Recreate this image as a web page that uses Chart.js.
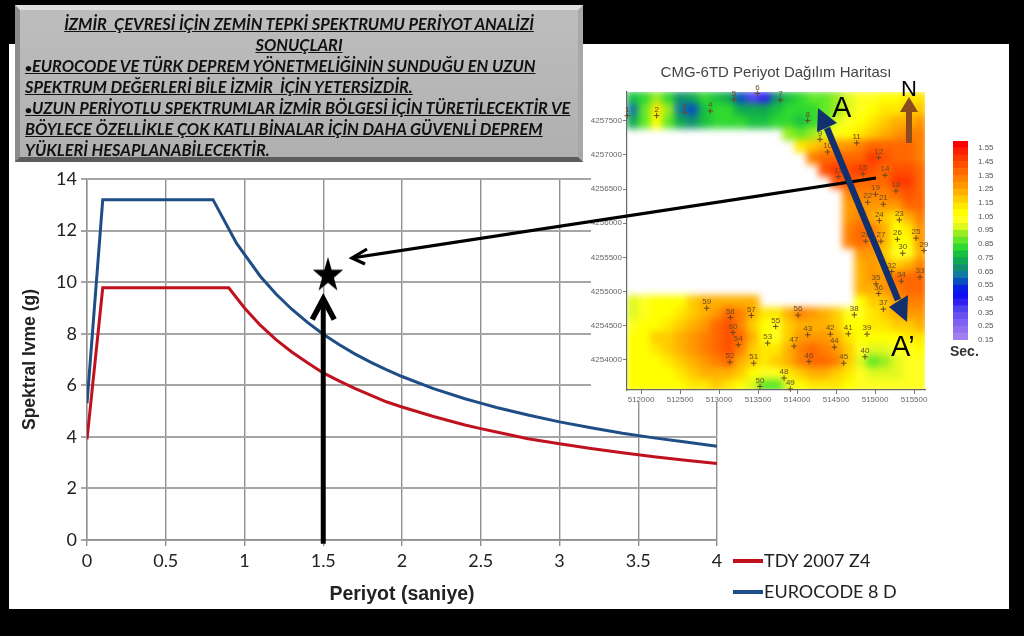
<!DOCTYPE html>
<html lang="tr">
<head>
<meta charset="utf-8">
<title>Zemin Tepki Spektrumu</title>
<script src="https://cdn.jsdelivr.net/npm/chart.js@4/dist/chart.umd.min.js"></script>
<style>
html,body{margin:0;padding:0;background:#000;width:1024px;height:636px;overflow:hidden;font-family:Lato,sans-serif}
#white{position:absolute;left:9px;top:44px;width:1000px;height:565px;background:#fff}
canvas{position:absolute;display:block}
#mapBack{position:absolute;left:591px;top:44px;width:418px;height:358px;background:#fff}
#cellWrap{position:absolute;left:627px;top:92px;width:298px;height:298px;overflow:hidden}
#cells{left:-20px;top:-20px;filter:blur(3.5px)}
#panel{position:absolute;left:15px;top:5px;width:558px;height:147px;padding:0;background:linear-gradient(180deg,#bdbdbd,#b0b0b0);border-style:solid;border-width:5px;border-color:#dedede #a8a8a8 #5c5c5c #8c8c8c;overflow:hidden;color:#111;font:italic 700 16.4px/21px Lato,sans-serif;text-decoration:underline;white-space:pre}
#panel .in{margin-top:3px}
#panel .in div{padding-left:5px;height:21px}
#panel .in .c{text-align:center;padding:0}
#panel b{font-size:12px}
.legend{position:absolute;left:733px;font:18px Lato,sans-serif;color:#222;height:22px;line-height:22px;white-space:nowrap}
.legend i{display:inline-block;width:30px;height:4px;vertical-align:middle;margin-right:1px;position:relative;top:-1px}
svg{position:absolute;left:0;top:0}
.lab{position:absolute;color:#000;font-family:'Liberation Sans',sans-serif}
</style>
</head>
<body>
<div id="white"></div>
<canvas id="main" width="1024" height="636" style="left:0;top:0"></canvas>
<div id="mapBack"></div>
<div id="cellWrap"><canvas id="cells" width="338" height="338"></canvas></div>
<canvas id="map" width="400" height="350" style="left:576px;top:60px"></canvas>
<canvas id="bar" width="60" height="220" style="left:940px;top:131px"></canvas>
<div id="legend"></div>
<svg width="1024" height="636">
  <g fill="none" stroke="#000" stroke-width="3.2">
    <line x1="876" y1="178" x2="352" y2="258"/>
    <polyline points="367,249 352,258 365,264"/>
  </g>
  <line x1="827" y1="128" x2="898" y2="300" stroke="#12306e" stroke-width="6.5"/>
  <polygon points="818,108 817,132 837,123" fill="#12306e"/>
  <polygon points="907,322 889,307 908,295" fill="#12306e"/>
  <line x1="909" y1="108" x2="909" y2="143" stroke="#8a4b1e" stroke-width="6"/>
  <polygon points="909,97 900,112 918,112" fill="#8a4b1e"/>
</svg>
<div class="lab" style="left:832px;top:90px;font-size:29px;line-height:34px">A</div>
<div class="lab" style="left:901px;top:76px;font-size:22px;line-height:26px">N</div>
<div class="lab" style="left:891px;top:329px;font-size:29px;line-height:34px">A’</div>
<div class="lab" style="left:950px;top:343px;font-size:14px;line-height:16px;color:#333;font-weight:700">Sec.</div>
<div id="panel"><div class="in"><div class="c">İZMİR  ÇEVRESİ İÇİN ZEMİN TEPKİ SPEKTRUMU PERİYOT ANALİZİ</div><div class="c">SONUÇLARI</div><div><b>•</b>EUROCODE VE TÜRK DEPREM YÖNETMELİĞİNİN SUNDUĞU EN UZUN</div><div>SPEKTRUM DEĞERLERİ BİLE İZMİR  İÇİN YETERSİZDİR.</div><div><b>•</b>UZUN PERİYOTLU SPEKTRUMLAR İZMİR BÖLGESİ İÇİN TÜRETİLECEKTİR VE</div><div>BÖYLECE ÖZELLİKLE ÇOK KATLI BİNALAR İÇİN DAHA GÜVENLİ DEPREM</div><div>YÜKLERİ HESAPLANABİLECEKTİR.</div></div></div>
<script>
const periodRed  = [0,0.1,0.9,1.0,1.1,1.2,1.3,1.4,1.5,1.6,1.7,1.8,1.9,2.0,2.2,2.4,2.5,2.6,2.8,3.0,3.2,3.4,3.6,3.8,4.0];
const valuesRed  = [3.9,9.78,9.78,9.0,8.33,7.77,7.29,6.87,6.48,6.17,5.88,5.62,5.36,5.16,4.79,4.46,4.32,4.19,3.93,3.73,3.55,3.38,3.23,3.09,2.97];
const periodBlue = [0,0.1,0.8,0.95,1.1,1.2,1.3,1.4,1.5,1.6,1.7,1.8,1.9,2.0,2.2,2.4,2.5,2.6,2.8,3.0,3.2,3.4,3.6,3.8,4.0];
const valuesBlue = [5.3,13.2,13.2,11.5,10.23,9.54,8.95,8.44,7.98,7.58,7.22,6.9,6.61,6.34,5.87,5.48,5.31,5.14,4.85,4.58,4.35,4.14,3.96,3.8,3.64];
const seriesNames = ['TDY 2007 Z4','EUROCODE 8 D'];
const xTicks = [0,0.5,1,1.5,2,2.5,3,3.5,4];
const yTicks = [0,2,4,6,8,10,12,14];
const starPeriod = [1.53], starValue = [10.26];
const arrowPeriod = [1.5,1.5], arrowValue = [-0.15,9.35];
const headPeriod = [1.43,1.5,1.57], headValue = [8.55,9.35,8.55];

const mapEast  = [511897,512051,512205,512358,512512,512666,512820,512974,513128,513281,513435,513589,513743,513897,514051,514205,514358,514512,514666,514820,514974,515128,515281,515435,515589];
const mapNorth = [4257832,4257657,4257481,4257306,4257130,4256955,4256780,4256604,4256429,4256253,4256078,4255902,4255727,4255551,4255376,4255201,4255025,4254850,4254674,4254499,4254323,4254148,4253972,4253797,4253621];
const _ = null;
const mapPeriod = [
[.75,.8,.9,.8,.65,.7,.8,.78,.7,.55,.35,.4,.65,.78,.8,.85,.88,.9,.95,1.0,1.03,1.05,1.05,1.1,1.12],
[.6,.85,1.12,.9,.62,.55,.75,.8,.8,.72,.7,.72,.78,.8,.8,.82,.85,.9,.97,1.02,1.05,1.1,1.12,1.15,1.18],
[.7,.88,1.05,.88,.72,.68,.78,.8,.8,.8,.78,.78,.8,.82,.78,.8,.85,.95,1.0,1.05,1.1,1.15,1.2,1.22,1.25],
[_,_,_,_,_,_,_,_,_,_,_,_,_,.9,.88,.9,.95,1.02,1.08,1.12,1.18,1.22,1.28,1.3,1.3],
[_,_,_,_,_,_,_,_,_,_,_,_,_,_,1.12,1.15,1.2,1.25,1.25,1.3,1.38,1.38,1.35,1.35,1.32],
[_,_,_,_,_,_,_,_,_,_,_,_,_,_,_,1.3,1.35,1.35,1.35,1.38,1.45,1.42,1.38,1.38,1.32],
[_,_,_,_,_,_,_,_,_,_,_,_,_,_,_,_,1.42,1.45,1.42,1.45,1.42,1.38,1.42,1.42,1.35],
[_,_,_,_,_,_,_,_,_,_,_,_,_,_,_,_,_,1.42,1.4,1.38,1.35,1.38,1.45,1.45,1.38],
[_,_,_,_,_,_,_,_,_,_,_,_,_,_,_,_,_,_,1.32,1.3,1.3,1.32,1.38,1.4,1.38],
[_,_,_,_,_,_,_,_,_,_,_,_,_,_,_,_,_,_,1.28,1.28,1.25,1.25,1.28,1.35,1.35],
[_,_,_,_,_,_,_,_,_,_,_,_,_,_,_,_,_,_,1.28,1.3,1.2,1.18,1.12,1.2,1.3],
[_,_,_,_,_,_,_,_,_,_,_,_,_,_,_,_,_,_,1.3,1.35,1.3,1.2,1.08,1.1,1.28],
[_,_,_,_,_,_,_,_,_,_,_,_,_,_,_,_,_,_,1.3,1.35,1.3,1.2,1.05,1.05,1.25],
[_,_,_,_,_,_,_,_,_,_,_,_,_,_,_,_,_,_,_,1.28,1.28,1.18,1.02,1.02,1.22],
[_,_,_,_,_,_,_,_,_,_,_,_,_,_,_,_,_,_,_,1.22,1.25,1.22,1.15,1.2,1.3],
[_,_,_,_,_,_,_,_,_,_,_,_,_,_,_,_,_,_,_,1.22,1.25,1.28,1.35,1.35,1.35],
[_,_,_,_,_,_,_,_,_,_,_,_,_,_,_,_,_,_,_,1.2,1.2,1.25,1.3,1.35,1.35],
[.97,1.02,1.05,1.05,1.08,1.15,1.2,1.2,1.22,1.2,1.2,_,_,_,_,_,_,_,_,1.05,1.15,1.18,1.25,1.3,1.32],
[.98,1.03,1.05,1.08,1.12,1.18,1.22,1.28,1.38,1.3,1.2,1.12,1.12,1.22,1.3,1.25,1.2,1.15,1.0,1.0,1.1,1.15,1.2,1.28,1.28],
[1.02,1.05,1.06,1.12,1.18,1.22,1.28,1.36,1.42,1.32,1.15,1.05,1.02,1.15,1.22,1.22,1.2,1.15,1.08,1.05,1.1,1.12,1.15,1.18,1.2],
[1.05,1.08,1.15,1.18,1.22,1.28,1.33,1.38,1.42,1.35,1.2,1.05,1.02,1.15,1.25,1.28,1.28,1.2,1.12,1.08,1.08,1.08,1.08,1.1,1.12],
[1.05,1.06,1.12,1.16,1.2,1.26,1.32,1.38,1.4,1.3,1.15,1.1,1.12,1.2,1.3,1.35,1.32,1.25,1.18,1.02,.95,.95,1.0,1.02,1.05],
[1.05,1.05,1.08,1.12,1.18,1.22,1.28,1.32,1.35,1.22,1.15,1.12,1.15,1.22,1.32,1.35,1.35,1.3,1.18,.98,.88,.92,.98,1.0,1.03],
[1.05,1.05,1.06,1.08,1.12,1.16,1.2,1.22,1.22,1.15,1.08,1.0,1.02,1.1,1.18,1.2,1.2,1.18,1.12,1.0,.95,.95,.98,1.0,1.02],
[1.05,1.05,1.05,1.06,1.08,1.1,1.12,1.15,1.12,1.08,.95,.85,.88,.98,1.05,1.1,1.1,1.1,1.05,1.02,1.0,1.0,1.0,1.0,1.0]
];
const stationNames = ['1','2','3','4','5','6','7','8','9','10','11','12','13','15','14','18','19','22','21','24','23','25','26','27','28','29','30','32','34','33','35','36','37','38','39','41','42','43','44','47','45','46','40','52','51','53','55','54','60','58','57','56','59','48','49','50'];
const stationEast  = [511824,512200,512555,512888,513192,513491,513786,514136,514294,514392,514764,515046,514529,514845,515127,515268,515004,514905,515106,515055,515311,515525,515286,515076,514880,515627,515354,515213,515337,515576,515012,515046,515106,514734,514897,514657,514427,514136,514478,513961,514598,514153,514871,513140,513444,513623,513726,513247,513179,513145,513414,514012,512841,513833,513914,513525];
const stationNorth = [4257574,4257574,4257623,4257642,4257813,4257900,4257803,4257501,4257228,4257043,4257174,4256960,4256682,4256721,4256702,4256473,4256424,4256307,4256278,4256039,4256049,4255781,4255766,4255737,4255737,4255600,4255561,4255293,4255152,4255211,4255113,4254972,4254743,4254660,4254377,4254382,4254377,4254368,4254187,4254202,4253953,4253978,4254046,4253968,4253953,4254246,4254490,4254221,4254402,4254621,4254650,4254655,4254757,4253734,4253573,4253612];
const mapEastTicks  = [512000,512500,513000,513500,514000,514500,515000,515500];
const mapNorthTicks = [4254000,4254500,4255000,4255500,4256000,4256500,4257000,4257500];
const bandLow = [.15,.2,.25,.3,.35,.4,.45,.5,.55,.6,.65,.7,.75,.8,.85,.9,.95,1,1.05,1.1,1.15,1.2,1.25,1.3,1.35,1.4,1.45,1.5,1.55];
const bandColor = ['#a080f0','#9070f0','#8060f0','#6a50f0','#5040f0','#3020f0','#1010f0','#0820e0','#0850c0','#107aa0','#109070','#10a850','#18c040','#30d830','#60e828','#98ec20','#e0f820','#ffff20','#ffff00','#ffe800','#ffcc00','#ffb000','#ff9800','#ff8000','#ff6800','#ff5000','#ff3800','#f82000','#ff0000'];
const barTicks = [.15,.25,.35,.45,.55,.65,.75,.85,.95,1.05,1.15,1.25,1.35,1.45,1.55];

Chart.defaults.animation = false;
Chart.defaults.responsive = false;
Chart.defaults.plugins.legend.display = false;
Chart.defaults.plugins.tooltip.enabled = false;

function starImage(){
  const c=document.createElement('canvas');c.width=44;c.height=44;const g=c.getContext('2d');
  g.translate(22,22);g.fillStyle='#000';g.beginPath();
  for(let i=0;i<10;i++){const r=i%2?6.2:16,a=-Math.PI/2+i*Math.PI/5;const px=r*Math.cos(a),py=r*1.15*Math.sin(a);i?g.lineTo(px,py):g.moveTo(px,py);}
  g.closePath();g.fill();return c;
}
const zip=(a,b)=>a.map((v,i)=>({x:v,y:b[i]}));
const tickFont={family:'Lato',size:18};

const mainChart=new Chart(document.getElementById('main'),{
  type:'scatter',
  data:{datasets:[
    {data:zip(headPeriod,headValue),showLine:true,borderColor:'#000',borderWidth:5.5,pointRadius:0,clip:false},
    {data:zip(arrowPeriod,arrowValue),showLine:true,borderColor:'#000',borderWidth:5,pointRadius:0,clip:false},
    {data:zip(starPeriod,starValue),pointStyle:starImage(),pointRadius:16},
    {label:seriesNames[0],data:zip(periodRed,valuesRed),showLine:true,borderColor:'#c0111f',backgroundColor:'#c0111f',borderWidth:3,pointRadius:0,tension:0},
    {label:seriesNames[1],data:zip(periodBlue,valuesBlue),showLine:true,borderColor:'#1f4e87',backgroundColor:'#1f4e87',borderWidth:3,pointRadius:0,tension:0}
  ]},
  options:{
    layout:{padding:{left:20,top:179,right:307,bottom:30}},
    scales:{
      x:{type:'linear',min:0,max:4,
        afterBuildTicks:s=>{s.ticks=xTicks.map(v=>({value:v}));},
        afterFit:s=>{s.height=66;},
        grid:{color:'#909090',lineWidth:1.4,tickLength:6},border:{color:'#909090',width:1.4},
        ticks:{font:tickFont,color:'#222',maxRotation:0,padding:4,autoSkip:false,callback:v=>String(v)},
        title:{display:true,text:'Periyot (saniye)',color:'#222',font:{family:'Liberation Sans',size:19.5,weight:'700'},padding:0}},
      y:{type:'linear',min:0,max:14,
        afterBuildTicks:s=>{s.ticks=yTicks.map(v=>({value:v}));},
        afterFit:s=>{s.width=67;},
        grid:{color:'#a6a6a6',lineWidth:2,tickLength:6},border:{color:'#909090',width:1.4},
        ticks:{font:tickFont,color:'#222',padding:4},
        title:{display:true,text:'Spektral Ivme (g)',color:'#222',font:{family:'Liberation Sans',size:17.5,weight:'700'},padding:0}}
    }
  }
});
document.getElementById('legend').innerHTML=mainChart.data.datasets.slice(3).map((d,i)=>
  `<div class="legend" style="top:${549+i*31}px"><i style="background:${d.borderColor}"></i>${d.label}</div>`).join('');

const cells=[],cellColors=[];
mapPeriod.forEach((row,r)=>row.forEach((v,c)=>{
  if(v===null)return;
  cells.push({x:mapEast[c],y:mapNorth[r]});
  let k=0;for(let i=0;i<bandLow.length;i++){if(v>=bandLow[i]-1e-9)k=i;}
  cellColors.push(bandColor[k]);
}));
new Chart(document.getElementById('cells'),{
  type:'scatter',
  data:{datasets:[{data:cells,pointStyle:'rect',pointRadius:9.4,pointBackgroundColor:cellColors,pointBorderWidth:0,clip:false}]},
  options:{
    layout:{padding:20},
    scales:{x:{display:false,type:'linear',min:511820,max:515640},y:{display:false,type:'linear',min:4253560,max:4257920}}
  }
});

const stationLabels={id:'stationLabels',afterDatasetsDraw(ch){
  const g=ch.ctx;g.save();g.font='8px "Liberation Sans"';g.fillStyle='#6b4a20';g.textAlign='center';g.textBaseline='bottom';
  ch.getDatasetMeta(0).data.forEach((p,i)=>{g.fillText(stationNames[i],p.x,p.y-2);});g.restore();}};
new Chart(document.getElementById('map'),{
  type:'scatter',
  plugins:[stationLabels],
  data:{datasets:[
    {data:zip(stationEast,stationNorth),pointStyle:'cross',pointRadius:2.8,pointBorderColor:'#6b4a20',pointBorderWidth:1,clip:false}
  ]},
  options:{
    layout:{padding:{left:0,right:51,top:0,bottom:0}},
    plugins:{title:{display:true,fullSize:false,text:'CMG-6TD Periyot Dağılım Haritası',color:'#444',font:{family:'Liberation Sans',size:15,weight:'400'},padding:{top:4,bottom:10}}},
    scales:{
      x:{type:'linear',min:511820,max:515640,
        afterBuildTicks:s=>{s.ticks=mapEastTicks.map(v=>({value:v}));},
        afterFit:s=>{s.height=20;},
        grid:{drawOnChartArea:false,color:'#777',tickLength:4},border:{color:'#666',width:1.2},
        ticks:{font:{family:'Liberation Sans',size:8},color:'#666',maxRotation:0,padding:1,autoSkip:false,callback:v=>String(v)}},
      y:{type:'linear',min:4253560,max:4257920,
        afterBuildTicks:s=>{s.ticks=mapNorthTicks.map(v=>({value:v}));},
        afterFit:s=>{s.width=51;},
        grid:{drawOnChartArea:false,color:'#777',tickLength:4},border:{color:'#666',width:1.2},
        ticks:{font:{family:'Liberation Sans',size:8},color:'#666',padding:1,callback:v=>String(v)}}
    }
  }
});

new Chart(document.getElementById('bar'),{
  type:'bar',
  data:{labels:['Sec.'],datasets:bandLow.map((lo,i)=>({data:[[lo,lo+.05]],backgroundColor:bandColor[i],grouped:false,barPercentage:1,categoryPercentage:1}))},
  options:{
    layout:{padding:{left:13,top:10,right:0,bottom:11}},
    scales:{
      x:{display:false},
      y:{position:'right',type:'linear',min:.15,max:1.6,
        afterBuildTicks:s=>{s.ticks=barTicks.map(v=>({value:v}));},
        afterFit:s=>{s.width=32;},
        grid:{display:false},border:{display:false},
        ticks:{font:{family:'Liberation Sans',size:8},color:'#555',padding:2,autoSkip:false,callback:v=>v.toFixed(2)}}
    }
  }
});
</script>
</body>
</html>
